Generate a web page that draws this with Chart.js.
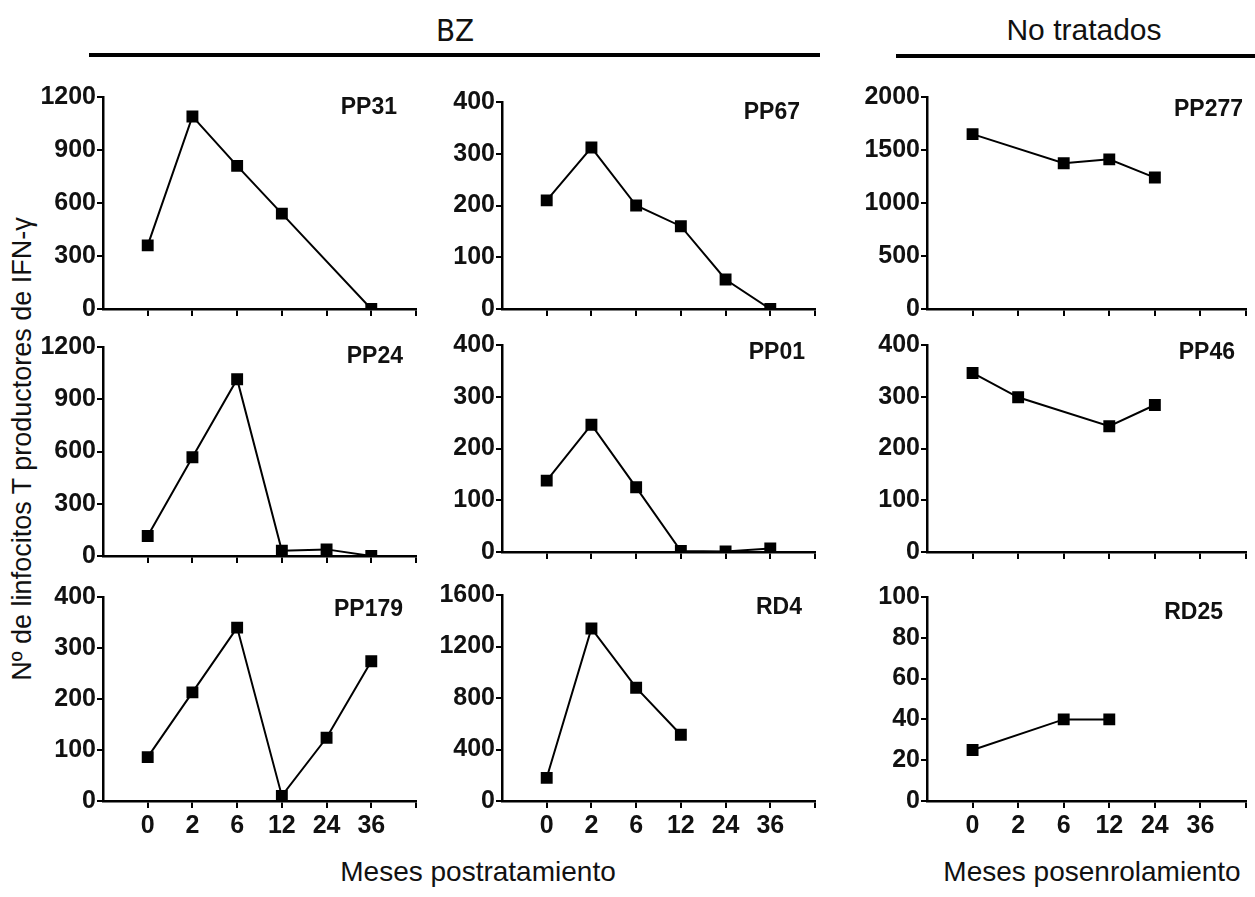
<!DOCTYPE html>
<html>
<head>
<meta charset="utf-8">
<script src="https://cdn.jsdelivr.net/npm/chart.js@4.4.0/dist/chart.umd.min.js"></script>
<style>
  body { margin: 0; background: #fff; font-family: "Liberation Sans", Arial, sans-serif; }
  #page { position: relative; width: 1255px; height: 897px; overflow: hidden; }
  .panel { position: absolute; }
  .txt { position: absolute; color: #111; white-space: nowrap; }
  .rule { position: absolute; background: #000; height: 4px; }
</style>
</head>
<body>
<div id="page">
  <div class="txt" style="left:455px; top:30px; transform:translate(-50%,-50%); font-size:31px; font-family:'DejaVu Sans Condensed','Liberation Sans Narrow',sans-serif;">BZ</div>
  <div class="rule" style="left:89px; top:53px; width:731px;"></div>
  <div class="txt" style="left:1084px; top:30px; transform:translate(-50%,-50%); font-size:30px;">No tratados</div>
  <div class="rule" style="left:896px; top:54px; width:359px;"></div>
  <div class="txt" style="left:22px; top:449px; transform:translate(-50%,-50%) rotate(-90deg); font-size:27px;">Nº de linfocitos T productores de IFN-γ</div>
  <div class="txt" style="left:478px; top:872px; transform:translate(-50%,-50%); font-size:28px;">Meses postratamiento</div>
  <div class="txt" style="left:1092px; top:872px; transform:translate(-50%,-50%); font-size:28px;">Meses posenrolamiento</div>
</div>
<script>
// meses (categorías del eje x)
const months = ['0', '2', '6', '12', '24', '36'];

// BZ
const pp31 = [360, 1090, 810, 540, null, 0];
const pp67 = [210, 312, 200, 160, 57, 0];
const pp24 = [115, 567, 1015, 30, 38, 0];
const pp01 = [138, 246, 125, 2, 1, 7];
const pp179 = [86, 213, 340, 10, 124, 274];
const rd4 = [180, 1340, 880, 515, null, null];

// No tratados
const pp277 = [1650, null, 1375, 1412, 1240, null];
const pp46 = [346, 299, null, 243, 284, null];
const rd25 = [25, null, 40, 40, null, null];

// escalas del eje y
const yMax = { PP31: 1200, PP67: 400, PP277: 2000, PP24: 1200, PP01: 400, PP46: 400, PP179: 400, RD4: 1600, RD25: 100 };
const yStep = { PP31: 300, PP67: 100, PP277: 500, PP24: 300, PP01: 100, PP46: 100, PP179: 100, RD4: 400, RD25: 20 };

// posición de cada panel: [izq, der, arriba, abajo] del área de trazado, y offset del nombre
const panels = [
  { name: 'PP31', data: pp31, rect: [103, 416, 97, 309], lab: [19, 11], showX: false },
  { name: 'PP67', data: pp67, rect: [502, 815, 102, 309], lab: [15, 11], showX: false },
  { name: 'PP277', data: pp277, rect: [927, 1246, 97, 309], lab: [3, 13], showX: false },
  { name: 'PP24', data: pp24, rect: [103, 416, 347, 556], lab: [13, 10], showX: false },
  { name: 'PP01', data: pp01, rect: [502, 815, 345, 552], lab: [10, 8], showX: false },
  { name: 'PP46', data: pp46, rect: [927, 1246, 345, 552], lab: [11, 8], showX: false },
  { name: 'PP179', data: pp179, rect: [103, 416, 597, 801], lab: [13, 13], showX: true },
  { name: 'RD4', data: rd4, rect: [502, 815, 595, 801], lab: [13, 13], showX: true },
  { name: 'RD25', data: rd25, rect: [927, 1246, 597, 801], lab: [23, 16], showX: true }
];

const Y_W = 90, PAD_T = 16, PAD_R = 10, X_H = 45;
const FONT = '"Liberation Sans", Arial, sans-serif';

const panelLabel = {
  id: 'panelLabel',
  afterDraw(chart, args, opts) {
    const { ctx, chartArea } = chart;
    ctx.save();
    ctx.font = 'bold 23px ' + FONT;
    ctx.fillStyle = '#111';
    ctx.textAlign = 'right';
    ctx.textBaseline = 'middle';
    ctx.fillText(opts.text, chartArea.right - opts.dx, chartArea.top + opts.dy);
    ctx.restore();
  }
};

const page = document.getElementById('page');

panels.forEach(p => {
  const [L, R, T, B] = p.rect;
  const box = document.createElement('div');
  box.className = 'panel';
  box.style.left = (L - Y_W) + 'px';
  box.style.top = (T - PAD_T) + 'px';
  box.style.width = (R - L + Y_W + PAD_R) + 'px';
  box.style.height = (B - T + PAD_T + X_H) + 'px';
  const cv = document.createElement('canvas');
  box.appendChild(cv);
  page.appendChild(box);

  const pts = [];
  p.data.forEach((v, i) => { if (v !== null) pts.push({ x: i + 1, y: v }); });

  new Chart(cv, {
    type: 'line',
    data: {
      datasets: [{
        data: pts,
        borderColor: '#000',
        backgroundColor: '#000',
        borderWidth: 2,
        pointStyle: 'rect',
        pointRadius: 7,
        pointHoverRadius: 7,
        tension: 0
      }]
    },
    options: {
      responsive: true,
      maintainAspectRatio: false,
      animation: false,
      events: [],
      layout: { padding: { top: PAD_T, right: PAD_R, left: 0, bottom: 0 } },
      plugins: {
        legend: { display: false },
        tooltip: { enabled: false },
        panelLabel: { text: p.name, dx: p.lab[0], dy: p.lab[1] }
      },
      scales: {
        x: {
          type: 'linear',
          min: 0,
          max: 7,
          afterFit: s => { s.height = X_H; },
          afterBuildTicks: s => { s.ticks = [0, 1, 2, 3, 4, 5, 6, 7].map(v => ({ value: v })); },
          ticks: {
            autoSkip: false,
            maxRotation: 0,
            padding: 3,
            color: '#111',
            font: { family: FONT, size: 25, weight: 'bold' },
            callback: v => (p.showX && v >= 1 && v <= 6) ? months[v - 1] : ''
          },
          grid: {
            drawOnChartArea: false,
            drawTicks: true,
            tickLength: 7,
            lineWidth: 2,
            color: c => c.index === 0 ? 'rgba(0,0,0,0)' : '#000'
          },
          border: { display: true, color: '#000', width: 2.5 }
        },
        y: {
          min: 0,
          max: yMax[p.name],
          afterFit: s => { s.width = Y_W; },
          ticks: {
            stepSize: yStep[p.name],
            padding: 1,
            color: '#111',
            font: { family: FONT, size: 25, weight: 'bold' },
            callback: v => String(v)
          },
          grid: {
            drawOnChartArea: false,
            drawTicks: true,
            tickLength: 6,
            lineWidth: 2,
            color: '#000'
          },
          border: { display: true, color: '#000', width: 2.5 }
        }
      }
    },
    plugins: [panelLabel]
  });
});
</script>
</body>
</html>
